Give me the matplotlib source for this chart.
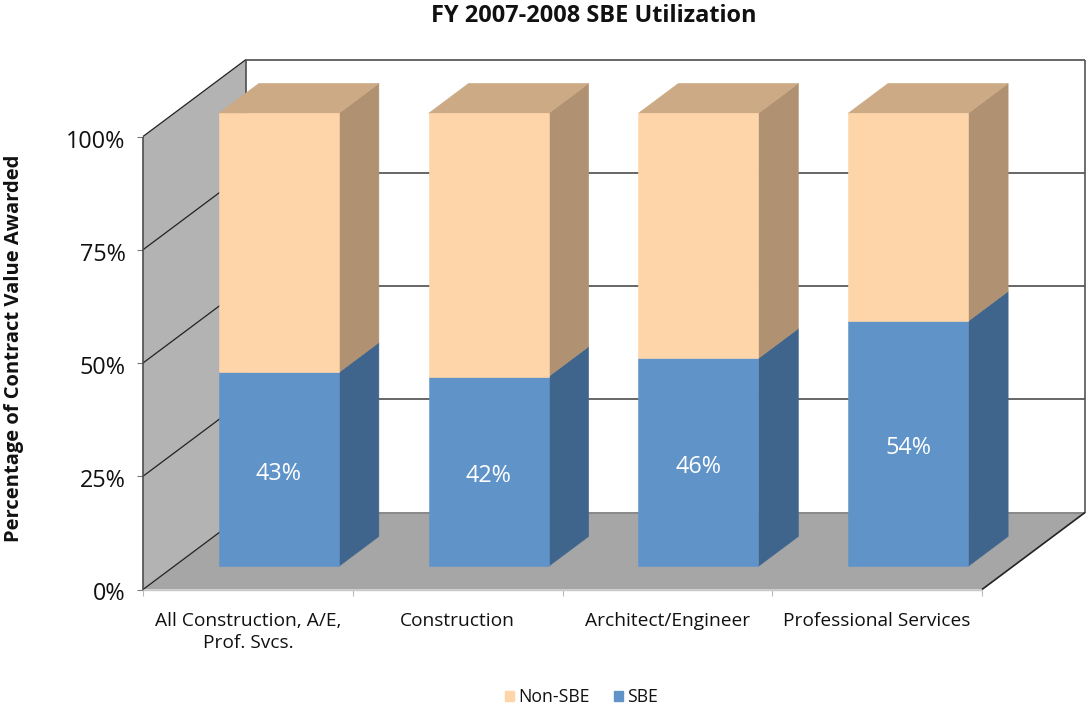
import matplotlib
matplotlib.use("Agg")
import matplotlib.pyplot as plt
from matplotlib.patches import Polygon, Patch
from matplotlib.transforms import ScaledTranslation

plt.rcParams['font.family'] = ['Open Sans', 'DejaVu Sans']

categories = ["All Construction, A/E,\nProf. Svcs.", "Construction", "Architect/Engineer", "Professional Services"]
sbe = [42.8, 41.9, 45.9, 54.1]
non_sbe = [57.2, 58.1, 54.1, 45.9]
sbe_labels = ["43%", "42%", "46%", "54%"]
y_ticks = [0, 25, 50, 75, 100]

W, H = 1086, 709
L, R, T, B = 143, 982, 136.5, 589.5
fig = plt.figure(figsize=(W / 100, H / 100), dpi=100)
ax = fig.add_axes([L / W, 1 - B / H, (R - L) / W, (B - T) / H])
ax.set_xlim(0, 4)
ax.set_ylim(0, 100)
for s in ax.spines.values():
    s.set_visible(False)
ax.patch.set_alpha(0)

# oblique depth: one full depth unit in data coordinates
DX = 103 / ((R - L) / 4)
DY = 77 / ((B - T) / 100)


def P(x, y, d=0.0):
    return (x + d * DX, y + d * DY)


def poly(pts, color, z, lw=0.4):
    ax.add_patch(Polygon(pts, closed=True, facecolor=color, edgecolor=color,
                         linewidth=lw, zorder=z, clip_on=False))


GRID = '#4d4d4d'
# walls and floor
poly([P(0, 0), P(0, 0, 1), P(0, 100, 1), P(0, 100)], '#b3b3b3', 1, lw=0)
poly([P(0, 0), P(0, 0, 1), P(4, 0, 1), P(4, 0)], '#a6a6a6', 1, lw=0)


def line(a, b, lw=1.0, color=GRID, z=2):
    ax.plot([a[0], b[0]], [a[1], b[1]], color=color, lw=lw, zorder=z, clip_on=False,
            solid_capstyle='butt')


for v in y_ticks:
    line(P(0, v), P(0, v, 1), lw=0.9, color='#222222')
    line(P(0, v, 1), P(4, v, 1), lw=1.4, color='#666666' if v else '#8a8a8a')
line(P(0, 0), P(0, 100), lw=1.2)
line(P(0, 0, 1), P(0, 100, 1), lw=1.2)
line(P(4, 0, 1), P(4, 100, 1), lw=1.2, color='#555555')
line(P(4, 0), P(4, 0, 1), lw=1.2, color='#222222')
line(P(0, 0), P(4, 0), lw=1.0, color='#c8c8c8')

# bars
BW = 120 / ((R - L) / 4)
D0, D1 = 31 / 103, 71 / 103


def segment(cx, y0, y1, front, side, z, top=None):
    x0, x1 = cx - BW / 2, cx + BW / 2
    poly([P(x1, y0, D0), P(x1, y0, D1), P(x1, y1, D1), P(x1, y1, D0)], side, z)
    poly([P(x0, y0, D0), P(x1, y0, D0), P(x1, y1, D0), P(x0, y1, D0)], front, z + 0.1)
    if top:
        poly([P(x0, y1, D0), P(x1, y1, D0), P(x1, y1, D1), P(x0, y1, D1)], top, z)


for i, (s, n) in enumerate(zip(sbe, non_sbe)):
    cx = i + 0.5
    segment(cx, 0, s, '#6094c9', '#40658c', 3)
    segment(cx, s, s + n, '#fed5a8', '#b09272', 3, top='#cbaa85')
    ax.text(*P(cx, s / 2 - 1.0, D0), sbe_labels[i], color='white', fontsize=16.8,
            ha='center', va='center', zorder=6)

# axes furniture
ax.set_yticks(y_ticks)
ax.set_yticklabels([f"{v}%" for v in y_ticks], fontsize=16.8, color='#111111')
ax.tick_params(axis='y', length=4, width=0.8, color='#777777', pad=8.5)
shift = ScaledTranslation(0, -2 / 100, fig.dpi_scale_trans)
for t in ax.get_yticklabels():
    t.set_transform(t.get_transform() + shift)
ax.set_xticks(range(5))
ax.set_xticklabels([])
ax.set_xticks([i + 0.5 for i in range(4)], labels=categories, minor=True)
ax.tick_params(axis='x', which='major', length=4, width=0.8, color='#bbbbbb')
ax.tick_params(axis='x', which='minor', length=0, pad=16, labelsize=13.8, labelcolor='#111111')
for t in ax.get_xticklabels(minor=True):
    t.set_linespacing(1.3)

fig.text(14 / W, 1 - 348 / H, "Percentage of Contract Value Awarded", rotation=90,
         fontsize=14.5, fontweight='bold', ha='center', va='center', color='#111111')
fig.text(594 / W, 1 - 16.5 / H, "FY 2007-2008 SBE Utilization", fontsize=16.9,
         fontweight='bold', ha='center', va='center', color='#111111')

handles = [Patch(color='#fed5a8', label='Non-SBE'), Patch(color='#6094c9', label='SBE')]
fig.legend(handles=handles, loc='center', bbox_to_anchor=(581.5 / W, 1 - 697 / H), ncol=2,
           frameon=False, fontsize=12.7, handlelength=0.51, handleheight=0.51,
           handletextpad=0.23, columnspacing=1.42, borderpad=0, labelcolor='#111111')

fig.savefig('out.png', dpi=100)
